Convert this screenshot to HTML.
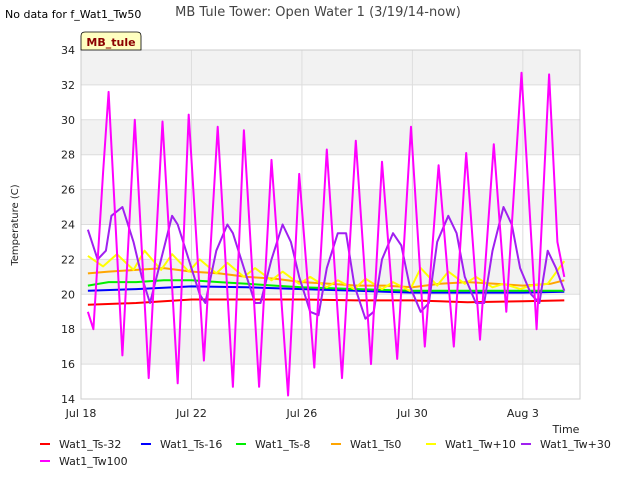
<!DOCTYPE html>
<html><head><meta charset="utf-8"><style>
body{margin:0;background:#fff;font-family:"Liberation Sans","DejaVu Sans",sans-serif;}
svg text{font-family:"DejaVu Sans","Liberation Sans",sans-serif;}
</style></head><body>
<svg id="chart" width="640" height="480" viewBox="0 0 640 480">
<text x="5" y="18" font-size="11" fill="#000">No data for f_Wat1_Tw50</text>
<text x="318" y="16" font-size="13" fill="#444" text-anchor="middle">MB Tule Tower: Open Water 1 (3/19/14-now)</text>
<g id="plot"></g>
<text x="18" y="225" font-size="10" fill="#222" text-anchor="middle" transform="rotate(-90 18 225)">Temperature (C)</text>
<text x="566" y="433" font-size="11" fill="#222" text-anchor="middle">Time</text>
<g>
<path d="M81,50 L81,36 Q81,32 85,32 L137,32 Q141,32 141,36 L141,50 Z" fill="#ffffc0" stroke="#000" stroke-width="0.8"/>
<text x="111" y="46" font-size="11" font-weight="bold" fill="#8b0000" text-anchor="middle">MB_tule</text>
</g>
<g id="legend"></g>
</svg>
<script>
const yTicks=[14,16,18,20,22,24,26,28,30,32,34];
const xTickDays=[0,4,8,12,16];
const xTickLabels=["Jul 18","Jul 22","Jul 26","Jul 30","Aug 3"];
const seriesNames=["Wat1_Ts-32","Wat1_Ts-16","Wat1_Ts-8","Wat1_Ts0","Wat1_Tw+10","Wat1_Tw+30","Wat1_Tw100"];
const seriesColors=["#ff0000","#0000ff","#00ee00","#ffa500","#ffff00","#a020f0","#ff00ff"];
// days since Jul 18 / values
const ts32T=[0.25,2,3,4,6,8,10,12,13,14,16,17.5];
const ts32V=[19.4,19.5,19.6,19.7,19.7,19.7,19.65,19.65,19.6,19.55,19.6,19.65];
const ts16T=[0.25,2,4,6,8,10,12,14,16,17.5];
const ts16V=[20.2,20.3,20.45,20.4,20.3,20.2,20.1,20.1,20.1,20.15];
const ts8T=[0.25,1,2,3,4,5,6,7,8,10,12,14,16,17.5];
const ts8V=[20.5,20.7,20.7,20.8,20.8,20.7,20.6,20.5,20.4,20.3,20.2,20.2,20.2,20.2];
const ts0T=[0.25,1,2,3,4,5,6,7,8,9,10,11,12,13,14,15,16,17,17.5];
const ts0V=[21.2,21.3,21.4,21.5,21.3,21.2,21,20.9,20.7,20.6,20.5,20.5,20.4,20.6,20.7,20.6,20.5,20.6,20.8];
const tw10T=[0.25,0.8,1.3,1.9,2.3,2.9,3.3,3.9,4.3,4.9,5.3,5.9,6.3,6.9,7.3,7.9,8.3,8.9,9.3,9.9,10.3,10.9,11.3,11.9,12.3,12.9,13.3,13.9,14.3,14.9,15.3,15.9,16.3,16.9,17.5];
const tw10V=[22.2,21.6,22.3,21.4,22.5,21.4,22.3,21.3,22,21.2,21.8,21,21.5,20.8,21.3,20.6,21,20.4,20.8,20.3,20.9,20.3,20.7,20.2,21.5,20.5,21.3,20.6,21,20.4,20.6,20.3,20.5,20.6,21.9];
const tw30T=[0.25,0.6,0.9,1.1,1.5,1.9,2.2,2.5,2.9,3.3,3.5,3.9,4.3,4.5,4.9,5.3,5.5,5.9,6.3,6.5,6.9,7.3,7.6,7.9,8.3,8.6,8.9,9.3,9.6,9.9,10.3,10.6,10.9,11.3,11.6,11.9,12.3,12.6,12.9,13.3,13.6,13.9,14.3,14.6,14.9,15.3,15.6,15.9,16.3,16.6,16.9,17.2,17.5];
const tw30V=[23.7,22,22.5,24.5,25,23,21,19.5,22,24.5,24,22,20,19.5,22.5,24,23.5,21.5,19.5,19.5,22,24,23,21,19,18.8,21.5,23.5,23.5,20.5,18.6,19,22,23.5,22.8,20.5,19,19.5,23,24.5,23.5,21,19.5,19.5,22.5,25,24,21.5,20,19.5,22.5,21.5,20.2];
const tw30b=[0,0,0,0,0,0,0,0,0,0,0,0,0,0,0,0,0,0,0,0,0,0,0,0,0,0,0,0,0,0,0,0,0,0,0,0,0,0,0,0,0,0,0,0,0,0,0,0,0,0,0,0,0];
const tw100T=[0.25,0.45,0.8,1.0,1.5,1.95,2.45,2.95,3.5,3.9,4.45,4.95,5.5,5.9,6.45,6.9,7.5,7.9,8.45,8.9,9.45,9.95,10.5,10.9,11.45,11.95,12.45,12.95,13.5,13.95,14.45,14.95,15.4,15.95,16.5,16.95,17.25,17.5];
const tw100V=[19,18,27,31.6,16.5,30,15.2,29.9,14.9,30.3,16.2,29.6,14.7,29.4,14.7,27.7,14.2,26.9,15.8,28.3,15.2,28.8,16,27.6,16.3,29.6,17,27.4,17,28.1,17.4,28.6,19,32.7,18,32.6,23,21];
const seriesT=[ts32T,ts16T,ts8T,ts0T,tw10T,tw30T,tw100T];
const seriesV=[ts32V,ts16V,ts8V,ts0V,tw10V,tw30V,tw100V];

const X0=81,X1=580,Y0=399,Y1=50,DAYS=18.07;
const xs=d=>X0+d/DAYS*(X1-X0);
const ys=v=>Y0-(v-14)/20*(Y0-Y1);
const NS="http://www.w3.org/2000/svg";
const plot=document.getElementById('plot');
function mk(tag,attrs,parent){const e=document.createElementNS(NS,tag);for(const k in attrs)e.setAttribute(k,attrs[k]);parent.appendChild(e);return e;}
const bg=mk('rect',{x:X0,y:Y1,width:X1-X0,height:Y0-Y1,fill:'#ffffff'},plot);


for(let i=0;i<yTicks.length-1;i++){
  if(i%2===1){
    const b=mk('rect',{x:X0,y:ys(yTicks[i+1]),width:X1-X0,height:ys(yTicks[i])-ys(yTicks[i+1]),fill:'#f2f2f2'},plot);
    
    
  }
}
yTicks.forEach(v=>{
  const l=mk('line',{x1:X0,x2:X1,y1:ys(v),y2:ys(v),stroke:'#dddddd','stroke-width':1},plot);
  
  
  const t=mk('text',{x:X0-6,y:ys(v)+4,'font-size':11,'text-anchor':'end',fill:'#222'},plot);
  t.textContent=v;
  
  
});
xTickDays.forEach((d,i)=>{
  const l=mk('line',{x1:xs(d),x2:xs(d),y1:Y1,y2:Y0,stroke:'#dddddd','stroke-width':1},plot);
  
  
  const t=mk('text',{x:xs(d),y:Y0+18,'font-size':11,'text-anchor':'middle',fill:'#222'},plot);
  t.textContent=xTickLabels[i];
  
  
});
const fr=mk('rect',{x:X0,y:Y1,width:X1-X0,height:Y0-Y1,fill:'none',stroke:'#cccccc'},plot);


seriesT.forEach((T,s)=>{
  const pts=T.map((d,i)=>xs(d).toFixed(1)+','+ys(seriesV[s][i]).toFixed(1)).join(' ');
  const p=mk('polyline',{points:pts,fill:'none',stroke:seriesColors[s],'stroke-width':2,'stroke-linejoin':'round'},plot);
  
  
});
const leg=document.getElementById('legend');
const legX=[40,141,236,331,426,521,40],legY=[444,444,444,444,444,444,461];
seriesNames.forEach((n,i)=>{
  const g=mk('g',{},leg);
  
  
  mk('line',{x1:legX[i],x2:legX[i]+10,y1:legY[i],y2:legY[i],stroke:seriesColors[i],'stroke-width':2},g);
  const t=mk('text',{x:legX[i]+19,y:legY[i]+4,'font-size':11,fill:'#222'},g);
  t.textContent=n;
});
</script>
</body></html>
